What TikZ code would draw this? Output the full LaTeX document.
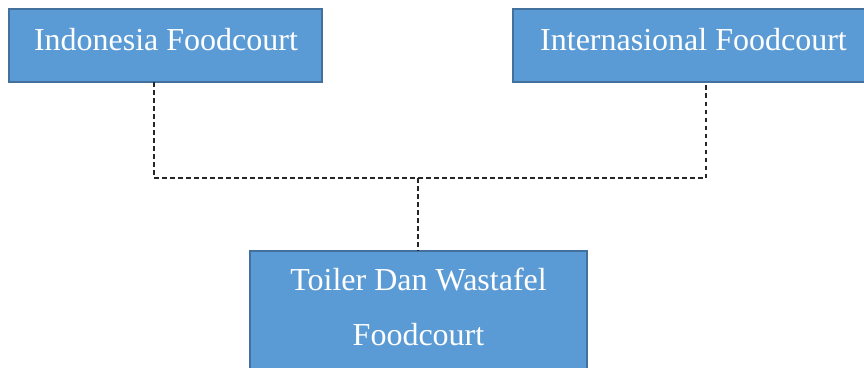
\documentclass[tikz,border=0pt]{standalone}
\usepackage{fontspec}
\setmainfont{Liberation Serif}
\definecolor{boxfill}{RGB}{91,155,213}
\definecolor{boxdraw}{RGB}{65,113,156}
\begin{document}
\begin{tikzpicture}[x=1bp,y=-1bp,
  box/.style={draw=boxdraw, line width=2bp, fill=boxfill, inner sep=0pt, outer sep=0pt},
  boxtext/.style={text=white, font=\fontsize{32bp}{55bp}\selectfont, inner sep=0pt, outer sep=0pt},
  link/.style={draw=black!85, line width=1.2bp, dash pattern=on 4.5bp off 3.5bp}]
\useasboundingbox (0,0) rectangle (864,367);
\clip (0,0) rectangle (864,367);
\node[box, anchor=north west, minimum width=313bp, minimum height=73bp] (indo) at (9,9) {};
\node[box, anchor=north west, minimum width=361bp, minimum height=73bp] (inter) at (513,9) {};
\node[box, anchor=north, minimum width=337bp, minimum height=130bp] (toilet) at (418.5,251) {};
\node[boxtext, anchor=base] (indotext) at (166,50) {Indonesia Foodcourt};
\node[boxtext, anchor=base] (intertext) at (693.5,50) {Internasional Foodcourt};
\node[boxtext, anchor=base] (toilettext1) at (418.5,290) {Toiler Dan Wastafel};
\node[boxtext, anchor=base] (toilettext2) at (418.5,345) {Foodcourt};
\coordinate (jl) at (154,178);
\coordinate (jr) at (706,178);
\coordinate (jm) at (418,178);
\draw[link] (indo.south -| jl) -- (jl) -- (jr) -- (inter.south -| jr);
\draw[link] (jm) -- (jm |- toilet.north);
\end{tikzpicture}
\end{document}
